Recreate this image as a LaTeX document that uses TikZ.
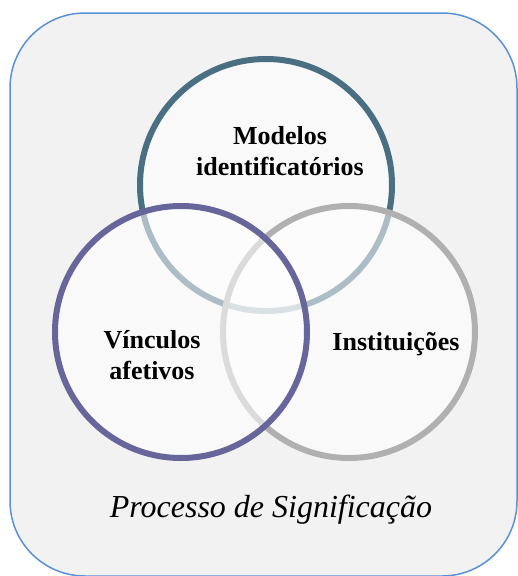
\documentclass[tikz,border=0pt]{standalone}
\usepackage{fontspec}
\setmainfont{Liberation Serif}
\usepackage{tikz}
\usetikzlibrary{positioning}
\definecolor{framecolor}{RGB}{91, 145, 214}
\definecolor{panelcolor}{RGB}{242, 242, 242}
\definecolor{modeloscolor}{RGB}{74, 110, 130}
\definecolor{vinculoscolor}{RGB}{102, 102, 154}
\definecolor{institucolor}{RGB}{176, 176, 176}

\begin{document}
\begin{tikzpicture}[
    x=1pt, y=-1pt,
    panel/.style={draw=framecolor, line width=1.5pt, fill=panelcolor, rounded corners=75pt},
    ring/.style={circle, minimum size=252pt, line width=6pt, fill=white, fill opacity=0.55},
    label/.style={font=\fontsize{26}{31}\selectfont\bfseries, text centered, align=center, text opacity=1}
]
\useasboundingbox (0, 0) rectangle (518, 576);

% Outer panel
\draw[panel] (10, 13) rectangle (517, 576);

% Circles
\node[ring, draw=modeloscolor] (modelos) at (266, 185) {};
\node[ring, draw=institucolor] (instituicoes) at (349, 332) {};
\node[ring, draw=vinculoscolor] (vinculos) at (181, 332) {};

% Labels
\node[label] (modelostext) at (280, 151) {Modelos\\identificatórios};
\node[label] (vinculostext) at (152, 355) {Vínculos\\afetivos};
\node[label] (instituicoestext) at (396, 344) {Instituições};

% Caption
\node[font=\fontsize{32}{36}\selectfont\itshape] (caption) at (271, 510) {Processo de Significação};

\end{tikzpicture}
\end{document}
